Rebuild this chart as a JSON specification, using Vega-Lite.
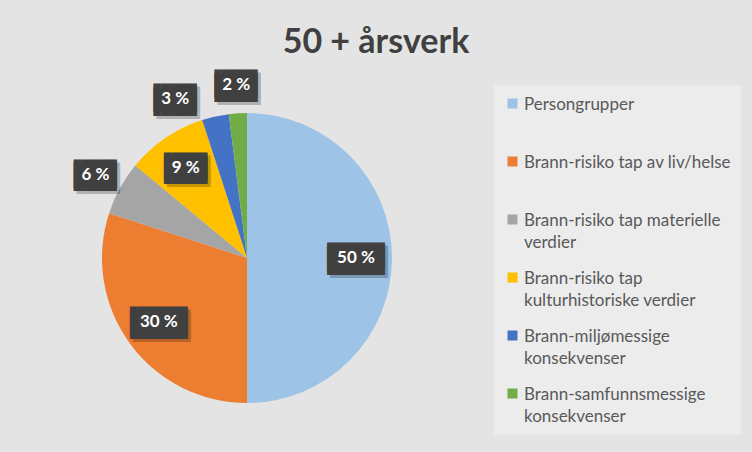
{
  "$schema": "https://vega.github.io/schema/vega-lite/v6.json",
  "width": 290,
  "height": 290,
  "autosize": {"type": "none"},
  "padding": {"left": 102, "top": 113, "right": 360, "bottom": 49},
  "background": "#e4e4e4",
  "title": {
    "text": "50 + årsverk",
    "font": "Lato",
    "fontSize": 34,
    "fontWeight": "bold",
    "color": "#404040",
    "anchor": "middle",
    "dx": 129,
    "offset": 13
  },
  "config": {
    "style": {
      "guide-label": {"lineHeight": 22.5, "dy": -7}
    }
  },
  "data": {
    "values": [
      {"kategori": "Persongrupper", "andel": 50, "etikett": "50 %", "rekkefolge": 1},
      {"kategori": "Brann-risiko tap av liv/helse", "andel": 30, "etikett": "30 %", "rekkefolge": 2},
      {"kategori": "Brann-risiko tap materielle verdier", "andel": 6, "etikett": "6 %", "rekkefolge": 3},
      {"kategori": "Brann-risiko tap kulturhistoriske verdier", "andel": 9, "etikett": "9 %", "rekkefolge": 4},
      {"kategori": "Brann-miljømessige konsekvenser", "andel": 3, "etikett": "3 %", "rekkefolge": 5},
      {"kategori": "Brann-samfunnsmessige konsekvenser", "andel": 2, "etikett": "2 %", "rekkefolge": 6}
    ]
  },
  "encoding": {
    "theta": {"field": "andel", "type": "quantitative", "stack": true},
    "order": {"field": "rekkefolge", "type": "quantitative"}
  },
  "layer": [
    {
      "mark": {"type": "arc", "radius": 145, "stroke": null},
      "encoding": {
        "color": {
          "field": "kategori",
          "type": "nominal",
          "scale": {
            "domain": [
              "Persongrupper",
              "Brann-risiko tap av liv/helse",
              "Brann-risiko tap materielle verdier",
              "Brann-risiko tap kulturhistoriske verdier",
              "Brann-miljømessige konsekvenser",
              "Brann-samfunnsmessige konsekvenser"
            ],
            "range": ["#9DC3E6", "#ED7D31", "#A5A5A5", "#FFC000", "#4472C4", "#70AD47"]
          },
          "legend": {
            "orient": "none",
            "legendX": 392,
            "legendY": -28,
            "title": null,
            "labelFont": "Lato",
            "labelFontSize": 17,
            "labelColor": "#595959",
            "symbolType": "square",
            "symbolSize": 100,
            "symbolStrokeWidth": 0,
            "labelLimit": 300,
            "rowPadding": 18,
            "padding": 10,
            "fillColor": "#ececec",
            "labelBaseline": "top",
            "labelOffset": 3,
            "labelExpr": "datum.label == 'Brann-risiko tap materielle verdier' ? ['Brann-risiko tap materielle', 'verdier'] : datum.label == 'Brann-risiko tap kulturhistoriske verdier' ? ['Brann-risiko tap', 'kulturhistoriske verdier'] : datum.label == 'Brann-miljømessige konsekvenser' ? ['Brann-miljømessige', 'konsekvenser'] : datum.label == 'Brann-samfunnsmessige konsekvenser' ? ['Brann-samfunnsmessige', 'konsekvenser'] : [datum.label, ' ']"
          }
        }
      }
    },
    {
      "mark": {
        "type": "text",
        "font": "DejaVu Sans Mono",
        "fontSize": 24,
        "lineHeight": 3.5,
        "align": "center",
        "baseline": "middle",
        "color": "#000000",
        "opacity": 0.22,
        "radius": {"expr": "datum.andel >= 9 ? 109 : 173"},
        "dx": {"expr": "(datum.andel == 3 ? -34 : 0) + 3"},
        "dy": {"expr": "(datum.andel == 3 ? 10 : 0) + 3"},
        "text": {"expr": "datum.andel >= 10 ? ['▐███▌', '▐███▌'] : ['▐██▌', '▐██▌']"}
      }
    },
    {
      "mark": {
        "type": "text",
        "font": "DejaVu Sans Mono",
        "fontSize": 24,
        "lineHeight": 3.5,
        "align": "center",
        "baseline": "middle",
        "color": "#404040",
        "radius": {"expr": "datum.andel >= 9 ? 109 : 173"},
        "dx": {"expr": "datum.andel == 3 ? -34 : 0"},
        "dy": {"expr": "datum.andel == 3 ? 10 : 0"},
        "text": {"expr": "datum.andel >= 10 ? ['▐███▌', '▐███▌'] : ['▐██▌', '▐██▌']"}
      }
    },
    {
      "mark": {
        "type": "text",
        "font": "Lato",
        "fontSize": 17,
        "fontWeight": "bold",
        "align": "center",
        "baseline": "middle",
        "color": "#ffffff",
        "radius": {"expr": "datum.andel >= 9 ? 109 : 173"},
        "dx": {"expr": "datum.andel == 3 ? -34 : 0"},
        "dy": {"expr": "datum.andel == 3 ? 10 : 0"}
      },
      "encoding": {
        "text": {"field": "etikett", "type": "nominal"}
      }
    }
  ]
}
